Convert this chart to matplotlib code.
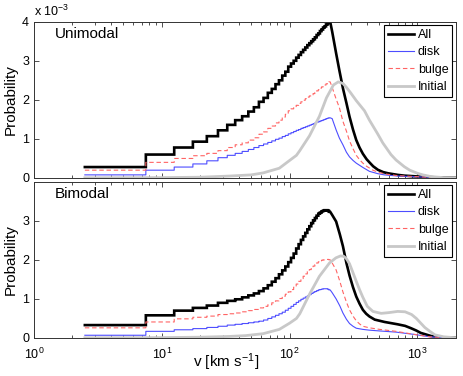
import numpy as np
import matplotlib
matplotlib.use('Agg')
import matplotlib.pyplot as plt
from matplotlib.ticker import LogLocator, NullFormatter

plt.rcParams['font.family'] = ['Liberation Sans', 'DejaVu Sans']
plt.rcParams['mathtext.default'] = 'regular'

# histogram bins: 5 km/s wide, first edge at 2.5 km/s (values in units of 1e-3)
V0 = 2.5
BIN_W = 5.0

# ---- Unimodal panel ----
uni_all = [0.28, 0.60, 0.78, 0.93, 1.07, 1.22, 1.36, 1.48, 1.58, 1.70, 1.81, 1.95, 2.05, 2.18,
           2.28, 2.40, 2.50, 2.62, 2.72, 2.85, 2.93, 3.00, 3.08, 3.15, 3.22, 3.28, 3.34, 3.40,
           3.45, 3.50, 3.55, 3.60, 3.66, 3.70, 3.76, 3.80, 3.85, 3.88, 3.93, 3.97, 4.00]
uni_all_tail_v = [215, 231, 245, 261, 278, 294, 313, 332, 352, 374, 400, 421, 450, 490, 540,
                  590, 700, 790, 1000, 1130, 1400, 1630, 2000]
uni_all_tail_p = [3.75, 3.19, 2.75, 2.30, 1.92, 1.57, 1.24, 0.97, 0.78, 0.62, 0.48, 0.40, 0.30,
                  0.21, 0.15, 0.12, 0.08, 0.06, 0.04, 0.03, 0.015, 0.01, 0.005]

uni_disk = [0.08, 0.20, 0.28, 0.36, 0.44, 0.52, 0.58, 0.63, 0.68, 0.73, 0.78, 0.83, 0.87, 0.91,
            0.95, 0.99, 1.02, 1.06, 1.09, 1.13, 1.16, 1.19, 1.22, 1.24, 1.27, 1.29, 1.31, 1.33,
            1.35, 1.37, 1.39, 1.41, 1.43, 1.44, 1.46, 1.47, 1.49, 1.50, 1.52, 1.53, 1.54]
uni_disk_tail_v = [215, 231, 245, 261, 278, 294, 313, 332, 374, 421, 490, 550, 700, 1000, 1400, 2000]
uni_disk_tail_p = [1.52, 1.23, 1.02, 0.85, 0.66, 0.54, 0.45, 0.38, 0.27, 0.17, 0.11, 0.08, 0.05,
                   0.03, 0.015, 0.004]

uni_bulge = [0.20, 0.40, 0.50, 0.57, 0.63, 0.70, 0.78, 0.85, 0.90, 0.97, 1.03, 1.12, 1.18, 1.27,
             1.33, 1.41, 1.48, 1.56, 1.63, 1.72, 1.77, 1.81, 1.86, 1.91, 1.95, 1.99, 2.03, 2.07,
             2.10, 2.13, 2.16, 2.19, 2.23, 2.26, 2.30, 2.33, 2.36, 2.38, 2.41, 2.44, 2.46]
uni_bulge_tail_v = [215, 231, 245, 261, 278, 294, 313, 332, 352, 374, 400, 448, 500, 569, 700,
                    916, 1200, 1600, 2000]
uni_bulge_tail_p = [2.32, 2.02, 1.80, 1.45, 1.20, 0.95, 0.75, 0.58, 0.47, 0.38, 0.30, 0.20, 0.14,
                    0.10, 0.06, 0.04, 0.02, 0.01, 0.003]

uni_init_v = [2.5, 10, 20, 34, 50, 62, 83, 100, 113, 120, 143, 171, 194, 220, 240, 261, 278, 300,
              332, 385, 421, 490, 535, 620, 680, 788, 870, 1000, 1100, 1280, 1600, 2000]
uni_init_p = [0.005, 0.01, 0.02, 0.05, 0.08, 0.13, 0.25, 0.45, 0.58, 0.70, 1.08, 1.58, 2.05, 2.38,
              2.46, 2.42, 2.32, 2.18, 1.98, 1.72, 1.48, 1.12, 0.90, 0.60, 0.46, 0.29, 0.20, 0.12,
              0.08, 0.035, 0.01, 0.003]

# ---- Bimodal panel ----
bi_all = [0.33, 0.58, 0.70, 0.77, 0.83, 0.90, 0.95, 0.99, 1.04, 1.09, 1.14, 1.20, 1.27, 1.35,
          1.44, 1.53, 1.63, 1.73, 1.83, 1.94, 2.05, 2.16, 2.29, 2.40, 2.51, 2.60, 2.69, 2.78,
          2.86, 2.94, 3.01, 3.07, 3.13, 3.18, 3.21, 3.24, 3.26, 3.27, 3.27, 3.26, 3.23]
bi_all_tail_v = [215, 231, 247, 261, 278, 294, 313, 332, 352, 374, 397, 421, 463, 553, 700, 800,
                 890, 980, 1060, 1280, 1600, 2000]
bi_all_tail_p = [3.15, 2.98, 2.65, 2.35, 1.92, 1.60, 1.30, 1.06, 0.88, 0.72, 0.62, 0.55, 0.47,
                 0.41, 0.35, 0.31, 0.25, 0.19, 0.13, 0.05, 0.015, 0.005]

bi_disk = [0.07, 0.17, 0.21, 0.24, 0.27, 0.30, 0.33, 0.35, 0.37, 0.39, 0.41, 0.43, 0.46, 0.50,
           0.54, 0.58, 0.62, 0.66, 0.71, 0.76, 0.81, 0.86, 0.91, 0.95, 0.99, 1.02, 1.05, 1.08,
           1.11, 1.14, 1.17, 1.19, 1.21, 1.23, 1.24, 1.25, 1.26, 1.26, 1.26, 1.25, 1.23]
bi_disk_tail_v = [215, 231, 247, 261, 278, 294, 313, 332, 374, 421, 506, 680, 950, 1250, 1600, 2000]
bi_disk_tail_p = [1.16, 1.00, 0.82, 0.64, 0.48, 0.37, 0.30, 0.25, 0.22, 0.20, 0.18, 0.15, 0.09,
                  0.03, 0.01, 0.003]

bi_bulge = [0.26, 0.41, 0.49, 0.53, 0.56, 0.60, 0.62, 0.64, 0.67, 0.70, 0.73, 0.77, 0.81, 0.85,
            0.90, 0.95, 1.01, 1.07, 1.12, 1.18, 1.24, 1.30, 1.38, 1.45, 1.52, 1.58, 1.64, 1.70,
            1.75, 1.80, 1.84, 1.88, 1.92, 1.95, 1.97, 1.99, 2.00, 2.01, 2.01, 2.01, 2.00]
bi_bulge_tail_v = [215, 231, 247, 261, 278, 294, 313, 332, 352, 374, 421, 506, 680, 950, 1250,
                   1600, 2000]
bi_bulge_tail_p = [1.92, 1.74, 1.45, 1.18, 0.92, 0.72, 0.56, 0.44, 0.36, 0.30, 0.26, 0.22, 0.17,
                   0.09, 0.03, 0.01, 0.003]

bi_init_v = [2.5, 10, 20, 34, 45, 62, 83, 100, 113, 120, 143, 171, 205, 230, 250, 265, 278, 294,
             313, 332, 352, 374, 405, 448, 520, 600, 700, 800, 900, 980, 1140, 1250, 1370, 1600, 2000]
bi_init_p = [0.005, 0.01, 0.02, 0.04, 0.06, 0.11, 0.22, 0.38, 0.50, 0.62, 1.12, 1.58, 1.92, 2.05,
             2.10, 2.09, 2.03, 1.90, 1.67, 1.45, 1.24, 1.04, 0.81, 0.68, 0.63, 0.65, 0.68, 0.67,
             0.60, 0.50, 0.27, 0.17, 0.08, 0.03, 0.005]


def stair_line(step_vals, tail_v, tail_p):
    # histogram steps for the low-v bins, then a plain line for the smooth tail
    edges = V0 + BIN_W * np.arange(len(step_vals) + 1)
    xs = np.repeat(edges, 2)[1:-1]
    ys = np.repeat(step_vals, 2)
    return np.r_[xs, tail_v], np.r_[ys, tail_p]


def draw_panel(ax, all_, disk, bulge, init_v, init_p, title):
    x, y = stair_line(*all_)
    ax.plot(x, y, color='black', lw=1.9, solid_joinstyle='miter', label='All')
    x, y = stair_line(*disk)
    ax.plot(x, y, color='#4d4dff', lw=0.8, label='disk')
    x, y = stair_line(*bulge)
    ax.plot(x, y, color='#ff6464', lw=0.8, dashes=(4, 2.5), label='bulge')
    ax.plot(init_v, init_p, color='#c8c8c8', lw=2.0, label='Initial')

    ax.set_xscale('log')
    ax.set_xlim(1, 2000)
    ax.set_ylim(0, 4)
    ax.xaxis.set_major_locator(LogLocator(base=10, numticks=10))
    ax.xaxis.set_minor_locator(LogLocator(base=10, subs=np.arange(2, 10), numticks=20))
    ax.xaxis.set_minor_formatter(NullFormatter())
    ax.tick_params(which='both', direction='in', top=True, right=True, labelsize=9,
                   width=0.6, color='#333333')
    ax.tick_params(which='major', length=3.5)
    ax.tick_params(which='minor', length=2)
    ax.tick_params(axis='x', which='major', pad=6)
    for s in ax.spines.values():
        s.set_linewidth(0.7)
        s.set_color('#333333')
    ax.set_ylabel('Probability', fontsize=11, labelpad=3)
    ax.text(0.05, 0.92, title, transform=ax.transAxes, fontsize=11, va='center', ha='left')
    leg = ax.legend(loc='upper right', fontsize=9, fancybox=False, edgecolor='black',
                    framealpha=1, borderaxespad=0.3, borderpad=0.3, labelspacing=0.42,
                    handlelength=2.1, handletextpad=0.3)
    leg.get_frame().set_linewidth(0.8)


fig = plt.figure(figsize=(4.63, 3.76), dpi=100)
ax1 = fig.add_axes([0.0734, 0.5266, 0.9114, 0.4157])
ax2 = fig.add_axes([0.0734, 0.1011, 0.9114, 0.4157])

draw_panel(ax1, (uni_all, uni_all_tail_v, uni_all_tail_p),
           (uni_disk, uni_disk_tail_v, uni_disk_tail_p),
           (uni_bulge, uni_bulge_tail_v, uni_bulge_tail_p),
           uni_init_v, uni_init_p, 'Unimodal')
draw_panel(ax2, (bi_all, bi_all_tail_v, bi_all_tail_p),
           (bi_disk, bi_disk_tail_v, bi_disk_tail_p),
           (bi_bulge, bi_bulge_tail_v, bi_bulge_tail_p),
           bi_init_v, bi_init_p, 'Bimodal')

ax1.set_yticks([0, 1, 2, 3, 4])
ax1.tick_params(axis='x', labelbottom=False)
ax2.set_yticks([0, 1, 2, 3])
ax1.text(0.0, 1.015, r'x 10$^{-3}$', transform=ax1.transAxes, fontsize=9,
         va='bottom', ha='left')
ax2.set_xlabel(r'v [km s$^{-1}$]', fontsize=11)
ax2.xaxis.set_label_coords(0.455, -0.085)

fig.savefig('out.png', dpi=100)
